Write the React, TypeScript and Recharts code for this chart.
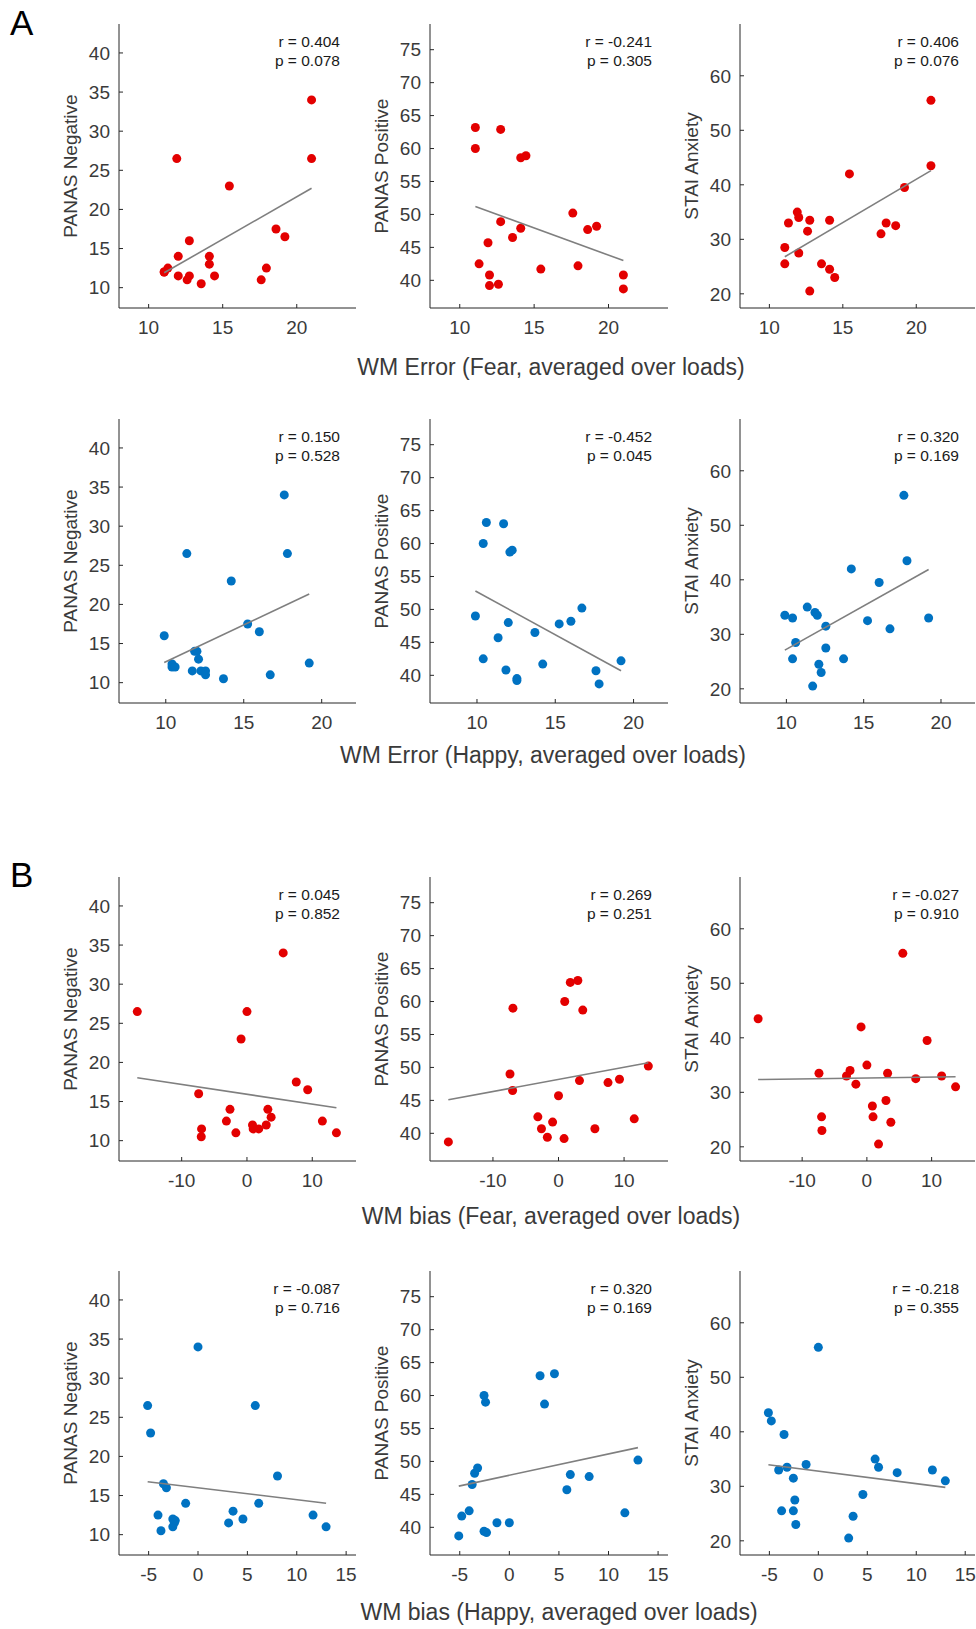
import { Scatter, ScatterChart, XAxis, YAxis } from 'recharts'

// subjects sorted by x, one array per x measure
const fearError = [11.05, 11.05, 11.3, 11.9, 12.0, 12.0, 12.6, 12.75, 12.75, 13.55, 14.1, 14.1, 14.45, 15.45, 17.6, 17.95, 18.6, 19.2, 21.0, 21.0]
const happyError = [9.9, 10.4, 10.4, 10.6, 11.35, 11.7, 11.85, 12.0, 12.1, 12.25, 12.55, 12.55, 13.7, 14.2, 15.25, 16.0, 16.7, 17.6, 17.8, 19.2]
const fearBias = [-16.8, -7.4, -7.0, -6.95, -3.15, -2.6, -1.7, -0.9, 0.0, 0.85, 0.95, 1.8, 2.95, 3.2, 3.7, 5.55, 7.55, 9.3, 11.55, 13.7]
const happyBias = [-5.1, -4.8, -4.05, -3.75, -3.5, -3.2, -2.55, -2.55, -2.4, -2.3, -1.25, 0.0, 3.1, 3.55, 4.55, 5.8, 6.15, 8.05, 11.65, 12.97]

const negFearError = [12, 12, 12.5, 26.5, 14, 11.5, 11, 16, 11.5, 10.5, 14, 13, 11.5, 23, 11, 12.5, 17.5, 16.5, 34, 26.5]
const posFearError = [63.2, 60, 42.5, 45.7, 40.8, 39.2, 39.4, 62.9, 48.9, 46.5, 58.6, 47.9, 58.9, 41.7, 50.2, 42.2, 47.7, 48.2, 40.8, 38.7]
const staiFearError = [28.5, 25.5, 33, 35, 34, 27.5, 31.5, 33.5, 20.5, 25.5, 33.5, 24.5, 23, 42, 31, 33, 32.5, 39.5, 55.5, 43.5]

const negHappyError = [16, 12.4, 12, 12, 26.5, 11.5, 14, 14, 13, 11.5, 11.5, 11, 10.5, 23, 17.5, 16.5, 11, 34, 26.5, 12.5]
const posHappyError = [49, 60, 42.5, 63.2, 45.7, 63, 40.8, 48, 58.7, 59, 39.5, 39.2, 46.5, 41.7, 47.8, 48.2, 50.2, 40.7, 38.7, 42.2]
const staiHappyError = [33.5, 33, 25.5, 28.5, 35, 20.5, 34, 33.5, 24.5, 23, 31.5, 27.5, 25.5, 42, 32.5, 39.5, 31, 55.5, 43.5, 33]

const negFearBias = [26.5, 16, 10.5, 11.5, 12.5, 14, 11, 23, 26.5, 12, 11.5, 11.5, 12, 14, 13, 34, 17.5, 16.5, 12.5, 11]
const posFearBias = [38.7, 49, 46.5, 59, 42.5, 40.7, 39.4, 41.7, 45.7, 39.2, 60, 62.9, 63.2, 48, 58.7, 40.7, 47.7, 48.2, 42.2, 50.2]
const staiFearBias = [43.5, 33.5, 25.5, 23, 33, 34, 31.5, 42, 35, 27.5, 25.5, 20.5, 28.5, 33.5, 24.5, 55.5, 32.5, 39.5, 33, 31]

const negHappyBias = [26.5, 23, 12.5, 10.5, 16.5, 16, 12, 11, 11.5, 11.8, 14, 34, 11.5, 13, 12, 26.5, 14, 17.5, 12.5, 11]
const posHappyBias = [38.7, 41.7, 42.5, 46.5, 48.2, 49, 60, 39.4, 59, 39.2, 40.7, 40.7, 63, 58.7, 63.3, 45.7, 48, 47.7, 42.2, 50.2]
const staiHappyBias = [43.5, 42, 33, 25.5, 39.5, 33.5, 31.5, 25.5, 27.5, 23, 34, 55.5, 20.5, 24.5, 28.5, 35, 33.5, 32.5, 33, 31]

// regression line: y at min x and at max x
const fitsFearError = [[11.9, 22.7], [51.2, 43.0], [26.8, 42.6]]
const fitsHappyError = [[12.57, 21.34], [52.8, 40.7], [27.1, 41.9]]
const fitsFearBias = [[18.05, 14.2], [45.1, 50.7], [32.35, 32.85]]
const fitsHappyBias = [[16.76, 14.02], [46.25, 52.1], [33.97, 29.8]]

const rValues = ['0.404', '-0.241', '0.406', '0.150', '-0.452', '0.320', '0.045', '0.269', '-0.027', '-0.087', '0.320', '-0.218']
const pValues = ['0.078', '0.305', '0.076', '0.528', '0.045', '0.169', '0.852', '0.251', '0.910', '0.716', '0.169', '0.355']

const negTicks = [10, 15, 20, 25, 30, 35, 40]
const posTicks = [40, 45, 50, 55, 60, 65, 70, 75]
const staiTicks = [20, 30, 40, 50, 60]

const RED = '#e30000'
const BLUE = '#0072c2'
const AXIS = '#262626'
const TXT = '#3a3a3a'
const FONT = '"Liberation Sans", Arial, Helvetica, sans-serif'

const rows = [
  { xs: fearError, ys: [negFearError, posFearError, staiFearError], fits: fitsFearError, xDomain: [8, 24], xTicks: [10, 15, 20], color: RED, top: 24, title: 'WM Error (Fear, averaged over loads)', titleX: 551, titleY: 367 },
  { xs: happyError, ys: [negHappyError, posHappyError, staiHappyError], fits: fitsHappyError, xDomain: [7, 22.2], xTicks: [10, 15, 20], color: BLUE, top: 419, title: 'WM Error (Happy, averaged over loads)', titleX: 543, titleY: 755 },
  { xs: fearBias, ys: [negFearBias, posFearBias, staiFearBias], fits: fitsFearBias, xDomain: [-19.6, 16.7], xTicks: [-10, 0, 10], color: RED, top: 877, title: 'WM bias (Fear, averaged over loads)', titleX: 551, titleY: 1216 },
  { xs: happyBias, ys: [negHappyBias, posHappyBias, staiHappyBias], fits: fitsHappyBias, xDomain: [-8, 16], xTicks: [-5, 0, 5, 10, 15], color: BLUE, top: 1271, title: 'WM bias (Happy, averaged over loads)', titleX: 559, titleY: 1612 },
]

const cols = [
  { left: 119, width: 237, label: 'PANAS Negative', yDomain: [7.4, 43.7], yTicks: negTicks },
  { left: 430, width: 238, label: 'PANAS Positive', yDomain: [35.8, 78.9], yTicks: posTicks },
  { left: 740, width: 235, label: 'STAI Anxiety', yDomain: [17.4, 69.5], yTicks: staiTicks },
]

const BOX_H = 284
const ML = 70
const MT = 10
const MB = 40
const MR = 2
const TICK_FS = 19

function Panel({ row, col, idx }: { row: any; col: any; idx: number }) {
  const ys: number[] = row.ys[idx]
  const data = row.xs.map((x: number, i: number) => ({ x, y: ys[i] }))
  const fit = row.fits[idx]
  const fitData = [
    { x: Math.min(...row.xs), y: fit[0] },
    { x: Math.max(...row.xs), y: fit[1] },
  ]
  const k = rows.indexOf(row) * 3 + idx
  const tickStyle = { fill: TXT, fontSize: TICK_FS, fontFamily: FONT }

  return (
    <div style={{ position: 'absolute', left: col.left - ML, top: row.top - MT }}>
      <ScatterChart width={col.width + ML + MR} height={BOX_H + MT + MB} margin={{ top: MT, right: MR, bottom: 0, left: 0 }}>
        <XAxis xAxisId="b" type="number" dataKey="x" domain={row.xDomain} ticks={row.xTicks} interval={0} allowDataOverflow
          height={MB} tickSize={-4} tickMargin={17} stroke={AXIS} tick={tickStyle} fontSize={TICK_FS} />
        <XAxis xAxisId="t" orientation="top" type="number" domain={row.xDomain} ticks={row.xTicks} interval={0} allowDataOverflow
          height={0} tickSize={-4} tick={false} stroke={AXIS} />
        <YAxis yAxisId="l" type="number" dataKey="y" domain={col.yDomain} ticks={col.yTicks} interval={0} allowDataOverflow
          width={ML} tickSize={-4} tickMargin={13} stroke={AXIS} tick={tickStyle} fontSize={TICK_FS} />
        <YAxis yAxisId="r" orientation="right" type="number" domain={col.yDomain} ticks={col.yTicks} interval={0} allowDataOverflow
          width={0} tickSize={-4} tick={false} stroke={AXIS} />
        <Scatter xAxisId="b" yAxisId="l" data={data} isAnimationActive={false}
          shape={(p: any) => <circle cx={p.cx} cy={p.cy} r={4.5} fill={row.color} />} />
        <Scatter xAxisId="b" yAxisId="l" data={fitData} isAnimationActive={false}
          line={{ stroke: '#7f7f7f', strokeWidth: 1.6 }} shape={() => <g />} />
      </ScatterChart>
      <div style={{
        position: 'absolute', left: ML - 49, top: MT + BOX_H / 2, transform: 'translate(-50%, -50%) rotate(-90deg)',
        whiteSpace: 'nowrap', fontFamily: FONT, fontSize: 19, color: TXT, lineHeight: 1,
      }}>{col.label}</div>
      <div style={{
        position: 'absolute', right: MR + 16, top: MT + 8, textAlign: 'right', whiteSpace: 'nowrap',
        fontFamily: FONT, fontSize: 15.5, color: '#1a1a1a', lineHeight: '19px',
      }}>
        <div>r = {rValues[k]}</div>
        <div>p = {pValues[k]}</div>
      </div>
    </div>
  )
}

export default function App() {
  return (
    <div style={{ position: 'absolute', left: 0, top: 0, width: 976, height: 1629, overflow: 'hidden', background: '#fff', fontFamily: FONT }}>
      <div style={{ position: 'absolute', left: 10, top: 5, fontSize: 35, lineHeight: 1, color: '#000' }}>A</div>
      <div style={{ position: 'absolute', left: 10, top: 857, fontSize: 35, lineHeight: 1, color: '#000' }}>B</div>
      {rows.map((row, ri) => (
        <div key={ri}>
          {cols.map((col, ci) => (
            <Panel key={ci} row={row} col={col} idx={ci} />
          ))}
          <div style={{
            position: 'absolute', left: row.titleX, top: row.titleY, transform: 'translate(-50%, -50%)',
            whiteSpace: 'nowrap', fontSize: 23, lineHeight: 1, color: TXT,
          }}>{row.title}</div>
        </div>
      ))}
    </div>
  )
}
